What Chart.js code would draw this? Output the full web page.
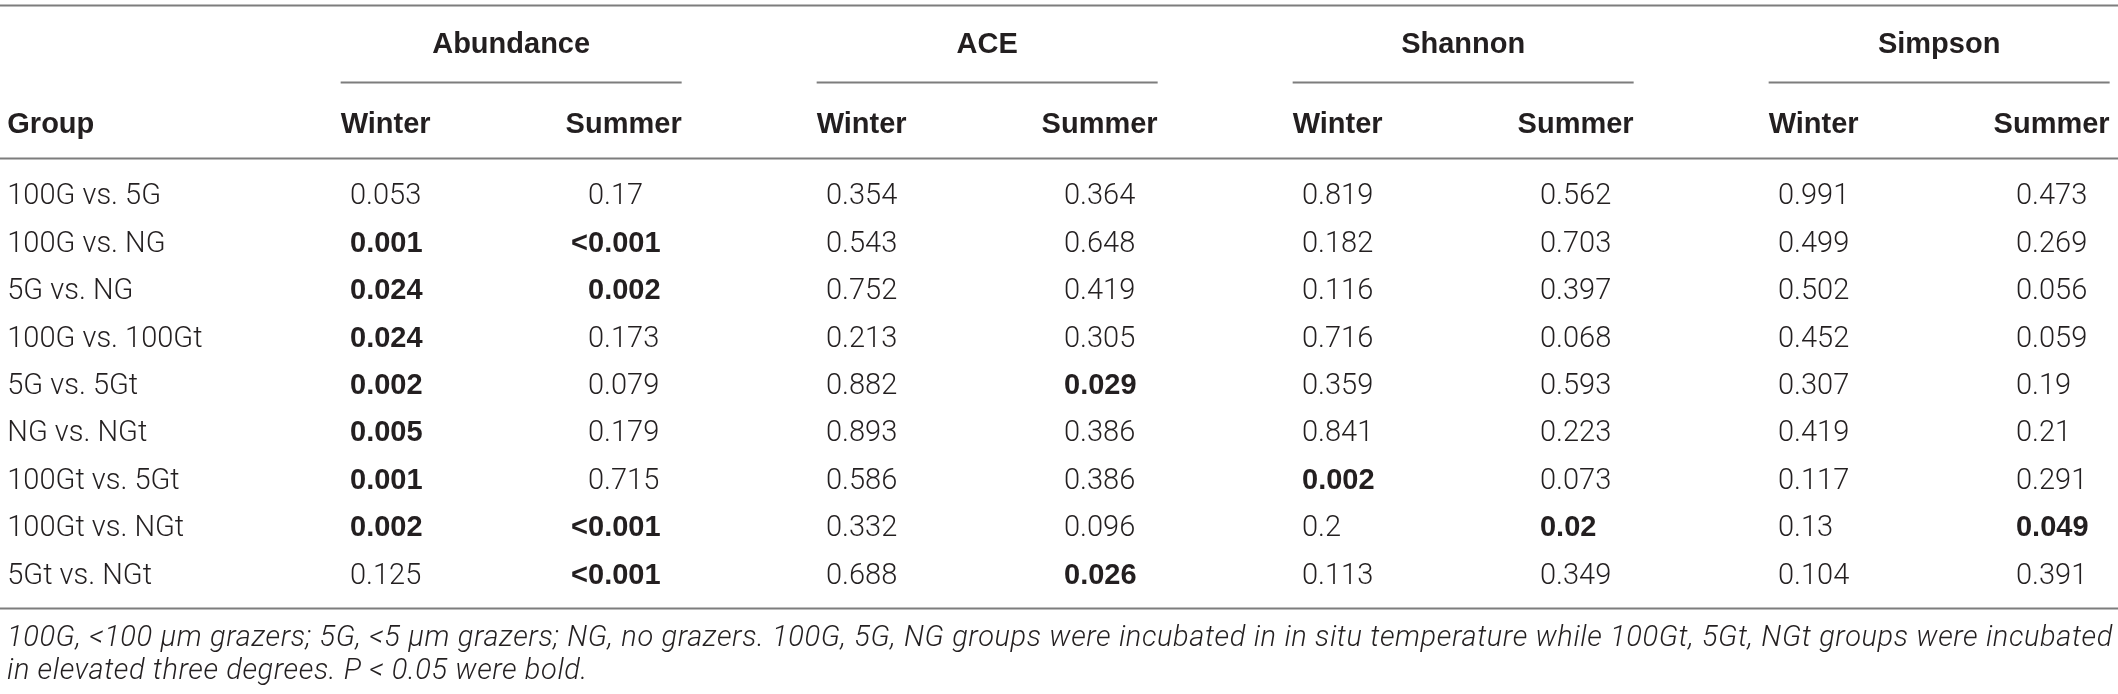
<!DOCTYPE html>
<html>
<head>
<meta charset="utf-8">
<script src="https://cdn.jsdelivr.net/npm/chart.js@4.4.1/dist/chart.umd.min.js"></script>
<style>
  html, body { margin: 0; padding: 0; background: #fff; }
  #wrap { position: relative; width: 2118px; height: 694px; overflow: hidden; }
  #note {
    position: absolute; left: 7px; top: 620px; width: 2106px;
    font: italic 300 29px Roboto, "Liberation Sans", sans-serif;
    letter-spacing: 0.6px;
    line-height: 33px; color: #231f20;
  }
  #note .j { text-align: justify; text-align-last: justify; }
</style>
</head>
<body>
<div id="wrap">
  <canvas id="tbl" width="2118" height="694"></canvas>
  <div id="note">
    <div class="j">100G, &lt;100 µm grazers; 5G, &lt;5 µm grazers; NG, no grazers. 100G, 5G, NG groups were incubated in in situ temperature while 100Gt, 5Gt, NGt groups were incubated</div>
    <div>in elevated three degrees. P &lt; 0.05 were bold.</div>
  </div>
</div>
<script>
// lignes du tableau
const groups = ['100G vs. 5G', '100G vs. NG', '5G vs. NG', '100G vs. 100Gt', '5G vs. 5Gt',
                'NG vs. NGt', '100Gt vs. 5Gt', '100Gt vs. NGt', '5Gt vs. NGt'];
const indices = ['Abundance', 'ACE', 'Shannon', 'Simpson'];
const seasons = ['Winter', 'Summer'];

// valeurs P (texte, comme dans la publication)
const abundanceWinter = ['0.053', '0.001', '0.024', '0.024', '0.002', '0.005', '0.001', '0.002', '0.125'];
const abundanceSummer = ['0.17', '<0.001', '0.002', '0.173', '0.079', '0.179', '0.715', '<0.001', '<0.001'];
const aceWinter = ['0.354', '0.543', '0.752', '0.213', '0.882', '0.893', '0.586', '0.332', '0.688'];
const aceSummer = ['0.364', '0.648', '0.419', '0.305', '0.029', '0.386', '0.386', '0.096', '0.026'];
const shannonWinter = ['0.819', '0.182', '0.116', '0.716', '0.359', '0.841', '0.002', '0.2', '0.113'];
const shannonSummer = ['0.562', '0.703', '0.397', '0.068', '0.593', '0.223', '0.073', '0.02', '0.349'];
const simpsonWinter = ['0.991', '0.499', '0.502', '0.452', '0.307', '0.419', '0.117', '0.13', '0.104'];
const simpsonSummer = ['0.473', '0.269', '0.056', '0.059', '0.19', '0.21', '0.291', '0.049', '0.391'];

const columns = [abundanceWinter, abundanceSummer, aceWinter, aceSummer,
                 shannonWinter, shannonSummer, simpsonWinter, simpsonSummer];

// mise en page (unités des échelles)
const GROUP_X = -0.44;
const ROW_GROUP_HEAD = -3.2, ROW_COL_HEAD = -1.5;
const RULE_TOP = -3.99, RULE_SUB = -2.36, RULE_HEAD = -0.76, RULE_BOTTOM = 8.73;

const LIGHT = '300 29px Roboto, "Liberation Sans", sans-serif';
const BOLD = 'bold 29px "Liberation Sans", Arial, sans-serif';
const HALF = 29 * 0.357;
const INK = '#231f20';

function isSignificant(v) {
  return v.charAt(0) === '<' || parseFloat(v) < 0.05;
}

const datasets = [{
  label: 'Group',
  texts: groups,
  kind: 'label',
  data: groups.map((g, i) => ({ x: GROUP_X, y: i }))
}];
columns.forEach((col, k) => {
  datasets.push({
    label: indices[Math.floor(k / 2)] + ' ' + seasons[k % 2],
    texts: col,
    kind: 'value',
    data: col.map((v, i) => ({ x: k + 1, y: i }))
  });
});

// dessine le texte du tableau à la place des points
const tablePlugin = {
  id: 'tablePlugin',
  afterDatasetsDraw(chart) {
    const ctx = chart.ctx;
    const xs = chart.scales.x, ys = chart.scales.y;
    ctx.save();
    ctx.fillStyle = INK;
    ctx.textBaseline = 'alphabetic';
    ctx.textAlign = 'left';

    // filets horizontaux
    ctx.strokeStyle = '#7d7d7d';
    ctx.lineWidth = 2;
    [RULE_TOP, RULE_HEAD, RULE_BOTTOM].forEach(r => {
      const y = Math.round(ys.getPixelForValue(r)) + 0.5;
      ctx.beginPath();
      ctx.moveTo(chart.chartArea.left, y);
      ctx.lineTo(chart.chartArea.right, y);
      ctx.stroke();
    });

    // cellules
    chart.data.datasets.forEach((ds, di) => {
      const meta = chart.getDatasetMeta(di);
      meta.data.forEach((pt, i) => {
        const t = ds.texts[i];
        ctx.font = (ds.kind === 'value' && isSignificant(t)) ? BOLD : LIGHT;
        let x = pt.x;
        // le signe < déborde à gauche de la colonne
        if (t.charAt(0) === '<') x -= ctx.measureText('<').width;
        ctx.fillText(t, x, pt.y + HALF);
      });
    });

    // en-têtes
    ctx.font = LIGHT;
    const cellHalf = ctx.measureText('0.000').width / 2;
    ctx.font = BOLD;
    ctx.fillText('Group', xs.getPixelForValue(GROUP_X), ys.getPixelForValue(ROW_COL_HEAD) + HALF);
    ctx.textAlign = 'center';
    indices.forEach((name, g) => {
      const cw = xs.getPixelForValue(2 * g + 1) + cellHalf;
      const cs = xs.getPixelForValue(2 * g + 2) + cellHalf;
      const yHead = ys.getPixelForValue(ROW_COL_HEAD) + HALF;
      ctx.fillText(seasons[0], cw, yHead);
      ctx.fillText(seasons[1], cs, yHead);
      const x0 = cw - ctx.measureText(seasons[0]).width / 2;
      const x1 = cs + ctx.measureText(seasons[1]).width / 2;
      ctx.fillText(name, (x0 + x1) / 2, ys.getPixelForValue(ROW_GROUP_HEAD) + HALF);
      const y = Math.round(ys.getPixelForValue(RULE_SUB)) + 0.5;
      ctx.beginPath();
      ctx.moveTo(x0, y);
      ctx.lineTo(x1, y);
      ctx.stroke();
    });
    ctx.restore();
  }
};

new Chart(document.getElementById('tbl'), {
  type: 'scatter',
  data: { datasets: datasets },
  options: {
    responsive: false,
    animation: false,
    events: [],
    layout: { padding: 0 },
    elements: { point: { radius: 0 } },
    plugins: { legend: { display: false }, tooltip: { enabled: false } },
    scales: {
      x: { type: 'linear', min: -0.4706, max: 8.4286, display: false },
      y: { type: 'linear', min: -4.093, max: 10.549, reverse: true, display: false }
    }
  },
  plugins: [tablePlugin]
});
</script>
</body>
</html>
